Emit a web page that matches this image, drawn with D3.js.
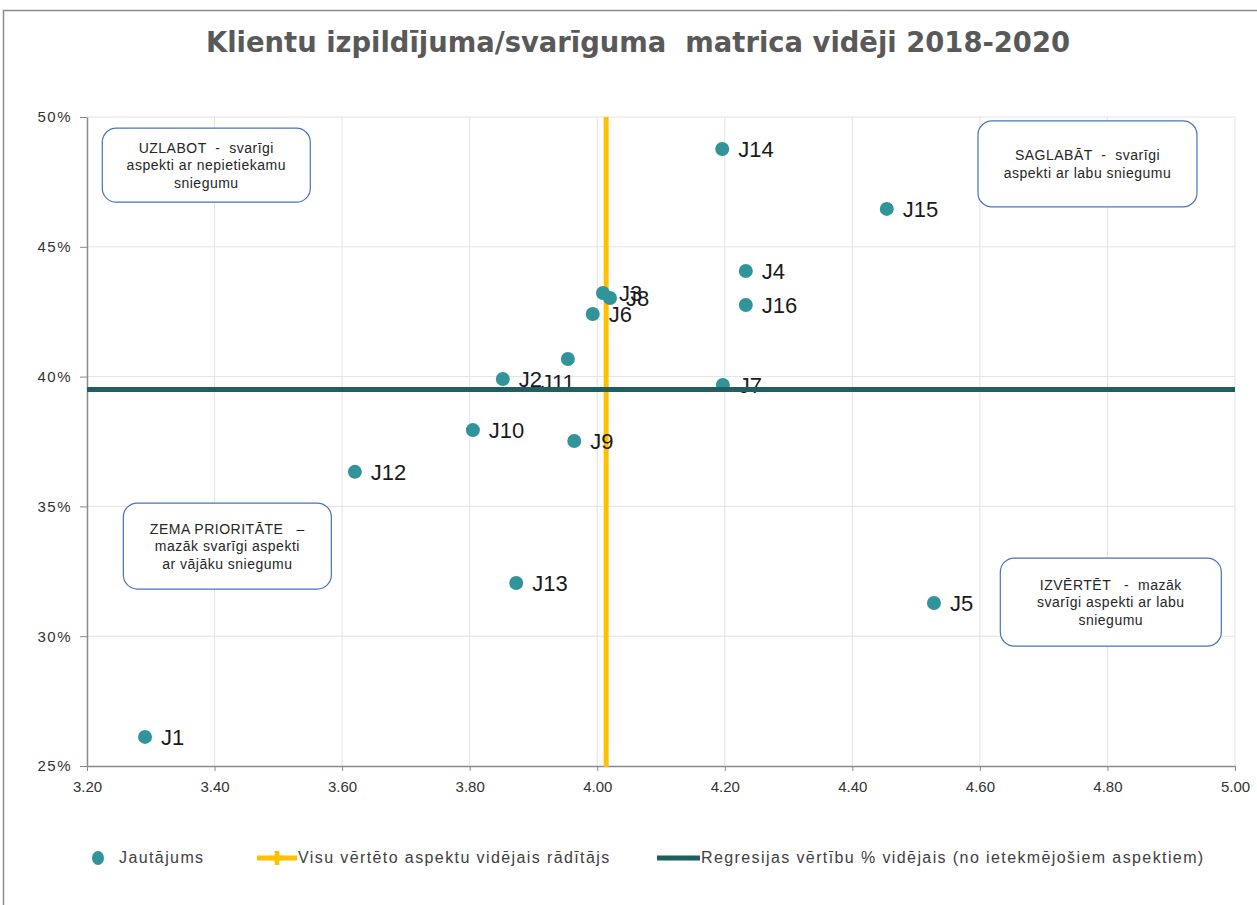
<!DOCTYPE html>
<html>
<head>
<meta charset="utf-8">
<script src="https://d3js.org/d3.v7.min.js"></script>
<style>
  body { margin: 0; background: #fff; }
  svg { display: block; }
</style>
</head>
<body>
<svg id="chart" width="1257" height="905"></svg>
<script>
// --- data ---
const names = ["J1","J2","J3","J4","J5","J6","J7","J8","J9","J10","J11","J12","J13","J14","J15","J16"];
const perf  = [3.291,3.852,4.009,4.233,4.528,3.993,4.197,4.020,3.964,3.805,3.954,3.620,3.873,4.196,4.454,4.233];
const share = [0.2612,0.3991,0.4322,0.4407,0.3128,0.4241,0.3968,0.4303,0.3752,0.3794,0.4068,0.3633,0.3205,0.4877,0.4646,0.4276];
// J11 label was moved by hand in the original
const labelShift = {"J11": [-43, 23]};

const avgPerf = 4.014;    // Visu vērtēto aspektu vidējais rādītājs
const avgShare = 0.395;   // Regresijas vērtību % vidējais

const xTicks = [3.2,3.4,3.6,3.8,4.0,4.2,4.4,4.6,4.8,5.0];
const yTicks = [0.25,0.30,0.35,0.40,0.45,0.50];

const title = "Klientu izpildījuma/svarīguma  matrica vidēji 2018-2020";
const boxes = [
  {lines: ["UZLABOT  -  svarīgi", "aspekti ar nepietiekamu", "sniegumu"], x: 3.224, y: 0.4957, w: 208, h: 74},
  {lines: ["SAGLABĀT  -  svarīgi", "aspekti ar labu sniegumu"], x: 4.597, y: 0.4985, w: 219, h: 86},
  {lines: ["ZEMA PRIORITĀTE   –", "mazāk svarīgi aspekti", "ar vājāku sniegumu"], x: 3.257, y: 0.3513, w: 208, h: 86},
  {lines: ["IZVĒRTĒT   -  mazāk", "svarīgi aspekti ar labu", "sniegumu"], x: 4.632, y: 0.3301, w: 221, h: 88}
];
const legendItems = ["Jautājums", "Visu vērtēto aspektu vidējais rādītājs", "Regresijas vērtību % vidējais (no ietekmējošiem aspektiem)"];

const teal = "#31949a", yellow = "#ffc000", dark = "#1f5f60";

const svg = d3.select("#chart");

// outer chart frame
svg.append("rect").attr("x", 3.5).attr("y", 10.5).attr("width", 1270).attr("height", 910)
  .style("fill", "none").style("stroke", "#8c8c8c").style("stroke-width", 1.5);

svg.append("text").text(title)
  .attr("x", 638).attr("y", 52)
  .attr("text-anchor", "middle")
  .attr("textLength", 864).attr("lengthAdjust", "spacingAndGlyphs")
  .style("white-space", "pre")
  .style("font-family", "DejaVu Sans").style("font-weight", "bold")
  .style("font-size", "29px").style("fill", "#595959");

let x = d3.scaleLinear().domain([3.2, 5.0]).range([87, 1235]);
let y = d3.scaleLinear().domain([0.25, 0.5]).range([766, 117]);

// grid
svg.append("g").selectAll("line").data(xTicks.slice(1)).join("line")
  .attr("x1", d => x(d)).attr("x2", d => x(d)).attr("y1", y(0.5)).attr("y2", y(0.25))
  .style("stroke", "#e3e3e3").style("stroke-width", 1);
svg.append("g").selectAll("line").data(yTicks.slice(1)).join("line")
  .attr("x1", x(3.2)).attr("x2", x(5.0)).attr("y1", d => y(d)).attr("y2", d => y(d))
  .style("stroke", "#e3e3e3").style("stroke-width", 1);

// axes
let xAxis = svg.append("g").attr("transform", `translate(0,${y(0.25)})`)
  .call(d3.axisBottom(x).tickValues(xTicks).tickFormat(d3.format(".2f")).tickSizeInner(5).tickSizeOuter(0));
let yAxis = svg.append("g").attr("transform", `translate(${x(3.2)},0)`)
  .call(d3.axisLeft(y).tickValues(yTicks).tickFormat(d3.format(".0%")).tickSizeInner(7).tickSizeOuter(0));
[xAxis, yAxis].forEach(a => {
  a.select(".domain").style("stroke", "#8a8a8a").style("stroke-width", 1.5);
  a.selectAll(".tick line").style("stroke", "#8a8a8a");
  a.selectAll("text").style("font-family", "Arial").style("font-size", "15px").style("fill", "#333");
});
xAxis.selectAll("text").attr("y", 15);
yAxis.selectAll("text").attr("x", -15).style("letter-spacing", "1.5px");

// quadrant boxes
boxes.forEach(b => {
  let g = svg.append("g");
  let bx = x(b.x), by = y(b.y);
  g.append("rect").attr("x", bx).attr("y", by).attr("width", b.w).attr("height", b.h)
    .attr("rx", 14)
    .style("fill", "#fff").style("stroke", "#4a72c0").style("stroke-width", 1.2);
  let lh = 17.5;
  let y0 = by + b.h / 2 - (b.lines.length - 1) * lh / 2 + 5;
  b.lines.forEach((l, i) => {
    g.append("text").text(l)
      .attr("x", bx + b.w / 2).attr("y", y0 + i * lh)
      .attr("text-anchor", "middle")
      .style("white-space", "pre")
      .style("letter-spacing", "0.5px")
      .style("font-family", "Arial").style("font-size", "14px").style("fill", "#262626");
  });
});

// vertical average line
svg.append("line")
  .attr("x1", x(avgPerf)).attr("x2", x(avgPerf)).attr("y1", y(0.5)).attr("y2", y(0.25) + 1)
  .style("stroke", yellow).style("stroke-width", 5);

// points + labels
names.forEach((n, i) => {
  svg.append("circle")
    .attr("cx", x(perf[i])).attr("cy", y(share[i])).attr("r", 7)
    .style("fill", teal);
});
names.forEach((n, i) => {
  let s = labelShift[n] || [0, 0];
  svg.append("text").text(n)
    .attr("x", x(perf[i]) + 16 + s[0]).attr("y", y(share[i]) + 8 + s[1])
    .style("font-family", "Arial").style("font-size", "22px").style("fill", "#1a1a1a");
});

// horizontal average line drawn over the labels, as in the original
svg.append("line")
  .attr("x1", x(3.2)).attr("x2", x(5.0)).attr("y1", y(avgShare)).attr("y2", y(avgShare))
  .style("stroke", dark).style("stroke-width", 5);

// legend
let lg = svg.append("g").style("font-family", "Arial").style("font-size", "16px")
  .style("letter-spacing", "1.4px").style("fill", "#404040");
lg.append("ellipse").attr("cx", 98).attr("cy", 858).attr("rx", 6).attr("ry", 7).style("fill", teal);
lg.append("text").text(legendItems[0]).attr("x", 119).attr("y", 863);
lg.append("line").attr("x1", 257).attr("x2", 297).attr("y1", 858).attr("y2", 858)
  .style("stroke", yellow).style("stroke-width", 5);
lg.append("path").attr("d", d3.symbol(d3.symbolCross, 110)())
  .attr("transform", "translate(277,858)").style("fill", yellow);
lg.append("text").text(legendItems[1]).attr("x", 298).attr("y", 863);
lg.append("line").attr("x1", 657).attr("x2", 700).attr("y1", 858).attr("y2", 858)
  .style("stroke", dark).style("stroke-width", 5);
lg.append("text").text(legendItems[2]).attr("x", 701).attr("y", 863);
</script>
</body>
</html>
